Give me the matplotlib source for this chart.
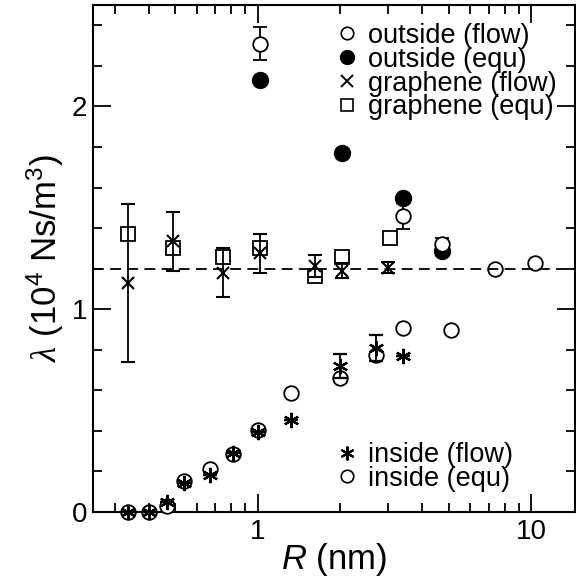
import matplotlib
matplotlib.use('Agg')
import matplotlib.pyplot as plt
from matplotlib.lines import Line2D
from matplotlib.ticker import FixedLocator, LogLocator, NullFormatter, MultipleLocator

plt.rcParams['font.family'] = ['Liberation Sans', 'DejaVu Sans']
plt.rcParams['mathtext.fontset'] = 'custom'
plt.rcParams['mathtext.rm'] = 'Liberation Sans'
plt.rcParams['mathtext.it'] = 'Liberation Sans:italic'
plt.rcParams['mathtext.sf'] = 'Liberation Serif:italic'

# outside (flow) / (equ)
R_out_flow = [1.02, 3.40, 4.72, 7.38, 10.35]
lam_out_flow = [2.31, 1.46, 1.32, 1.20, 1.23]
err_out_flow = [0.08, 0.065, 0.03, 0.0, 0.0]
R_out_equ = [1.02, 2.03, 3.40, 4.72]
lam_out_equ = [2.13, 1.77, 1.55, 1.285]

# graphene (flow) / (equ)
R_gr_flow = [0.337, 0.489, 0.745, 1.02, 1.62, 2.03, 2.99]
lam_gr_flow = [1.13, 1.335, 1.18, 1.275, 1.215, 1.19, 1.205]
err_gr_flow = [0.39, 0.145, 0.12, 0.095, 0.055, 0.036, 0.027]
R_gr_equ = [0.337, 0.489, 0.745, 1.02, 1.62, 2.03, 3.04]
lam_gr_equ = [1.37, 1.30, 1.26, 1.30, 1.165, 1.26, 1.35]

# inside (flow) / (equ)
R_in_flow = [0.337, 0.402, 0.468, 0.536, 0.667, 0.81, 1.0, 1.33, 2.0, 2.71, 3.40]
lam_in_flow = [0.0, 0.0, 0.05, 0.145, 0.185, 0.29, 0.395, 0.455, 0.72, 0.81, 0.77]
err_in_flow = [0, 0, 0, 0, 0, 0, 0, 0, 0.06, 0.065, 0]
R_in_equ = [0.337, 0.402, 0.468, 0.536, 0.667, 0.81, 1.0, 1.33, 2.0, 2.71, 3.40, 5.09]
lam_in_equ = [0.0, 0.0, 0.03, 0.155, 0.212, 0.286, 0.405, 0.585, 0.66, 0.775, 0.91, 0.90]

lam_ref = 1.2

fig = plt.figure(figsize=(5.76, 5.80), dpi=100)
ax = fig.add_axes([0.1615, 0.1172, 0.837, 0.874])

ms = 10.5
ast = (6, 2, 0)
ekw = dict(ecolor='k', elinewidth=1.3, capsize=5, capthick=1.3, ls='none')

ax.plot(R_in_equ, lam_in_equ, 'o', ms=ms, mfc='white', mec='k', mew=1.3, clip_on=False, zorder=3)
ax.errorbar(R_in_flow, lam_in_flow, yerr=err_in_flow, marker=ast, ms=11, mec='k', mew=1.6,
            color='k', clip_on=False, zorder=4, **ekw)

ax.errorbar(R_out_flow, lam_out_flow, yerr=err_out_flow, marker='o', ms=ms, mfc='white',
            mec='k', mew=1.3, zorder=3, **ekw)
ax.plot(R_out_equ, lam_out_equ, 'o', ms=ms + 1, color='k', zorder=3)

ax.plot(R_gr_equ, lam_gr_equ, 's', ms=ms, mfc='white', mec='k', mew=1.3, zorder=3)
ax.errorbar(R_gr_flow, lam_gr_flow, yerr=err_gr_flow, marker='x', ms=9, mec='k', mew=1.5,
            zorder=4, **ekw)

ax.axhline(lam_ref, color='k', lw=1.3, ls=(0, (6, 3.5)), zorder=5)

ax.set_xscale('log')
ax.set_xlim(0.25, 14.5)
ax.set_ylim(0, 2.5)

ax.xaxis.set_major_locator(FixedLocator([1, 10]))
ax.set_xticklabels(['1', '10'])
ax.xaxis.set_minor_locator(LogLocator(base=10, subs=range(2, 10)))
ax.xaxis.set_minor_formatter(NullFormatter())
ax.yaxis.set_major_locator(FixedLocator([0, 1, 2]))
ax.yaxis.set_minor_locator(MultipleLocator(0.2))

ax.tick_params(which='both', direction='in', top=True, right=True, width=1.3)
ax.tick_params(which='major', length=13, labelsize=20)
ax.tick_params(which='minor', length=6.5)
ax.tick_params(axis='x', pad=5)
ax.tick_params(axis='y', pad=4)
for s in ax.spines.values():
    s.set_linewidth(1.5)

ax.set_xlabel(r'$R$ (nm)', fontsize=25, labelpad=-3)
ax.set_ylabel(r'$\mathsf{\lambda}$ (10$^4$ Ns/m$^3$)', fontsize=25, labelpad=4)

h1 = [Line2D([], [], ls='none', marker='o', ms=9, mfc='white', mec='k', mew=1.2),
      Line2D([], [], ls='none', marker='o', ms=10, color='k'),
      Line2D([], [], ls='none', marker='x', ms=8, mec='k', mew=1.4),
      Line2D([], [], ls='none', marker='s', ms=9, mfc='white', mec='k', mew=1.2)]
leg1 = ax.legend(h1, ['outside (flow)', 'outside (equ)', 'graphene (flow)', 'graphene (equ)'],
                 loc='upper left', bbox_to_anchor=(0.505, 0.965), frameon=False, fontsize=19.5,
                 handlelength=0.8, handletextpad=0.35, labelspacing=-0.08, borderpad=0,
                 borderaxespad=0)
ax.add_artist(leg1)

h2 = [Line2D([], [], ls='none', marker=ast, ms=10, mec='k', mew=1.5),
      Line2D([], [], ls='none', marker='o', ms=9, mfc='white', mec='k', mew=1.2)]
ax.legend(h2, ['inside (flow)', 'inside (equ)'], loc='upper left', bbox_to_anchor=(0.505, 0.138),
          frameon=False, fontsize=19.5, handlelength=0.8, handletextpad=0.35, labelspacing=-0.08,
          borderpad=0, borderaxespad=0)

fig.savefig('out.png', dpi=100)
